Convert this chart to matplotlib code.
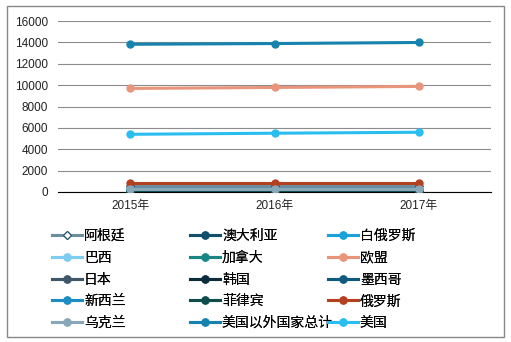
import matplotlib
matplotlib.use("Agg")
import matplotlib.pyplot as plt
from matplotlib.patches import Rectangle

plt.rcParams['font.family'] = ['Liberation Sans', 'Noto Sans CJK SC', 'DejaVu Sans']

years = ['2015年', '2016年', '2017年']
series_names = ['阿根廷', '澳大利亚', '白俄罗斯', '巴西', '加拿大', '欧盟', '日本', '韩国',
                '墨西哥', '新西兰', '菲律宾', '俄罗斯', '乌克兰', '美国以外国家总计', '美国']
argentina = [560, 560, 560]
australia = [120, 120, 120]
belarus = [60, 60, 60]
brazil = [250, 250, 250]
canada = [200, 200, 200]
eu = [9690, 9780, 9880]
japan = [150, 150, 150]
korea = [0, 0, 0]
mexico = [100, 100, 100]
new_zealand = [300, 300, 300]
philippines = [30, 30, 30]
russia = [810, 810, 810]
ukraine = [280, 280, 280]
non_us_total = [13820, 13890, 13990]
usa = [5400, 5500, 5590]

values = [argentina, australia, belarus, brazil, canada, eu, japan, korea,
          mexico, new_zealand, philippines, russia, ukraine, non_us_total, usa]
colors = ['#6a8ea0', '#0f4f6c', '#1aa2d8', '#7ccdf0', '#1a8585', '#e8957c', '#3f5868',
          '#0b2c3b', '#0f5a7e', '#1e8ec2', '#0f4d4d', '#b3401f', '#88a8ba', '#1683ae', '#2abdf0']

fig = plt.figure(figsize=(5.11, 3.42), dpi=100)
fig.patches.append(Rectangle((7/511, 1-337/342), 497/511, 331/342, transform=fig.transFigure,
                             fill=False, edgecolor='#888888', linewidth=1.0))

ax = fig.add_axes([58/511, 1-192/342, 433/511, 171/342])
x = list(range(len(years)))
handles = []
for name, vals, c in zip(series_names, values, colors):
    if name == '阿根廷':
        h, = ax.plot(x, vals, color=c, linewidth=2.2, marker='D', markersize=4.5,
                     markerfacecolor='white', markeredgecolor='#1f4f66', markeredgewidth=0.8,
                     label=name, zorder=3)
    else:
        h, = ax.plot(x, vals, color=c, linewidth=2.2, marker='o', markersize=5,
                     label=name, zorder=3)
    handles.append(h)

ax.set_xlim(-0.5, 2.5)
ax.set_ylim(0, 16000)
ax.set_yticks(range(0, 16001, 2000))
ax.set_xticks(x)
ax.set_xticklabels(years)
ax.yaxis.grid(True, color='#8c8c8c', linewidth=0.8)
ax.set_axisbelow(True)
for s in ['left', 'right', 'top']:
    ax.spines[s].set_visible(False)
ax.spines['bottom'].set_color('#000000')
ax.spines['bottom'].set_linewidth(0.8)
ax.tick_params(axis='both', length=0, labelsize=8.5, colors='#222222')
ax.tick_params(axis='y', pad=7)
ax.tick_params(axis='x', pad=6)

col_x = [52, 190, 328]
for ci in range(3):
    hs = [handles[i] for i in range(ci, 15, 3)]
    leg = fig.legend(handles=hs, labels=[h.get_label() for h in hs], loc='upper left',
                     bbox_to_anchor=(col_x[ci]/511, 1-229/342), frameon=False,
                     fontsize=10, handlelength=2.15, handletextpad=0.15,
                     labelspacing=0.56, borderaxespad=0, borderpad=0)
    fig.add_artist(leg)

fig.savefig('out.png', dpi=100)
